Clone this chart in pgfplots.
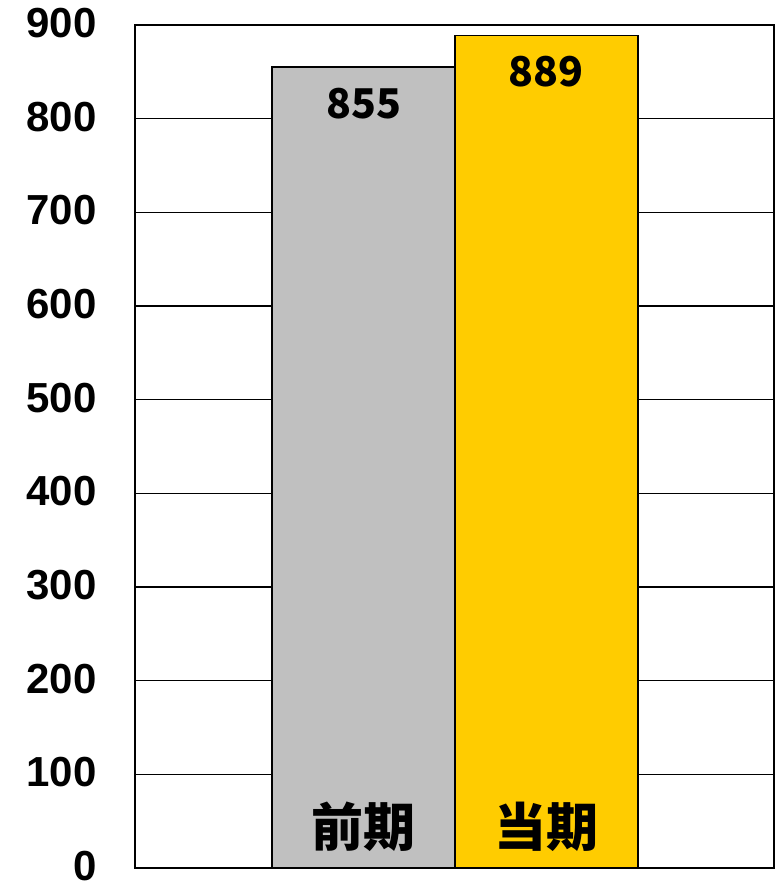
\documentclass[border=0pt]{standalone}
\usepackage{pgfplots}
\pgfplotsset{compat=1.18}
\usepackage{fontspec}
\setmainfont{Liberation Sans}
\newfontfamily\cjk{Noto Sans CJK JP}
\definecolor{prevgray}{HTML}{C0C0C0}
\definecolor{curyellow}{HTML}{FFCC00}
\begin{document}
\begin{tikzpicture}
\useasboundingbox (0,0) rectangle (388pt,444pt);
\begin{axis}[
    at={(67.5pt,10pt)}, anchor=south west,
    scale only axis,
    width=319.5pt, height=421.5pt,
    ybar, bar width=91.5pt, bar shift=0pt,
    xmin=-1.251, xmax=2.246,
    ymin=0, ymax=900,
    ytick={0,100,...,900},
    xtick=\empty,
    major tick length=0pt,
    ymajorgrids,
    major grid style={black, line width=0.8pt},
    axis line style={black, line width=1.1pt},
    yticklabel style={font=\fontsize{21}{24}\selectfont\bfseries, anchor=east, inner sep=0pt, xshift=-19pt, yshift=1pt},
    /pgf/number format/assume math mode=true,
]
\addplot[fill=prevgray, draw=black, line width=0.75pt, nodes near coords,
    every node near coord/.style={font=\cjk\fontsize{20.5}{24}\selectfont\bfseries, anchor=center, yshift=-18pt, text=black}]
    coordinates {(0,855)};
\addplot[fill=curyellow, draw=black, line width=0.75pt, nodes near coords,
    every node near coord/.style={font=\cjk\fontsize{20.5}{24}\selectfont\bfseries, anchor=center, yshift=-18pt, text=black}]
    coordinates {(1,889)};
% category names inside the bars, at their foot
\addplot[draw=none, fill=none, forget plot, point meta=explicit symbolic, nodes near coords,
    every node near coord/.style={font=\cjk\bfseries\fontsize{26}{30}\selectfont, anchor=center, inner sep=0pt, yshift=20.5pt, text=black}]
    coordinates {(0,0) [前期] (1,0) [当期]};
\end{axis}
\end{tikzpicture}
\end{document}
